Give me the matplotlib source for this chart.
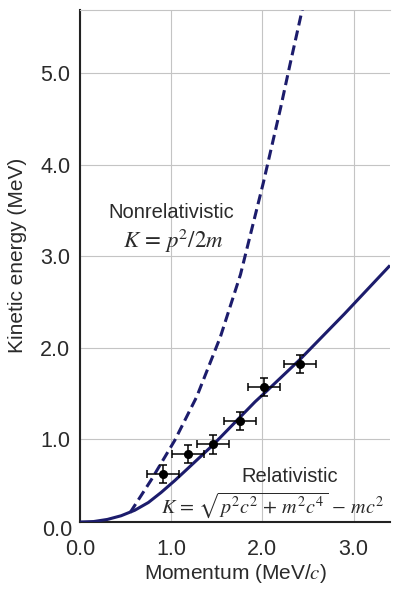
import matplotlib.pyplot as plt

# values: momentum (MeV/c), kinetic energy (MeV)
p_rel = [0.0, 0.15, 0.3, 0.45, 0.6, 0.75, 0.89, 1.04, 1.17, 1.46, 1.92, 2.05, 2.41, 2.9, 3.4]
k_rel = [0.097, 0.102, 0.125, 0.165, 0.225, 0.31, 0.42, 0.55, 0.67, 0.94, 1.41, 1.53, 1.87, 2.37, 2.90]

p_non = [0.55, 0.78, 1.04, 1.28, 1.54, 1.76, 2.01, 2.2, 2.3, 2.45]
k_non = [0.20, 0.555, 0.99, 1.465, 2.12, 2.80, 3.80, 4.62, 5.08, 5.75]

p_meas = [0.91, 1.18, 1.46, 1.75, 2.02, 2.41]
k_meas = [0.62, 0.84, 0.945, 1.20, 1.57, 1.82]
p_err = [0.175, 0.175, 0.175, 0.175, 0.175, 0.175]
k_err = [0.10, 0.10, 0.10, 0.10, 0.10, 0.10]

x_ticks = [0, 1, 2, 3]
y_ticks = [1, 2, 3, 4, 5]

plt.rcParams['font.family'] = ['Liberation Sans', 'DejaVu Sans']
plt.rcParams['mathtext.fontset'] = 'stix'
line_col = '#1c1c6c'
txt_col = '#2a2a2a'

fig = plt.figure(figsize=(3.95, 5.98), dpi=100)
ax = fig.add_axes([80 / 395, 76 / 598, 310 / 395, 512 / 598])

ax.plot(p_rel, k_rel, color=line_col, lw=2.2, zorder=3, solid_capstyle='butt')
ax.plot(p_non, k_non, color=line_col, lw=2.2, ls=(0, (3.3, 1.7)), zorder=3)
ax.errorbar(p_meas, k_meas, xerr=p_err, yerr=k_err, fmt='o', color='black',
            ms=5.5, elinewidth=1.1, capsize=3, capthick=1.1, zorder=4)

ax.set_xlim(0, 3.4)
ax.set_ylim(0.097, 5.69)
ax.set_xticks(x_ticks)
ax.set_yticks(y_ticks)
ax.set_xticklabels(['%.1f' % v for v in x_ticks])
ax.set_yticklabels(['%.1f' % v for v in y_ticks])
ax.tick_params(length=0, labelsize=15.5, colors=txt_col)
ax.tick_params(axis='x', pad=12)
ax.tick_params(axis='y', pad=7)
# the 0.0 label of the y axis sits just under the axis line
ax.text(-0.085, 0.0, '0.0', fontsize=15.5, color=txt_col, ha='right', va='center', clip_on=False)

ax.grid(True, color='#c4c4c4', lw=0.8)
ax.set_axisbelow(True)
ax.spines['right'].set_visible(False)
ax.spines['top'].set_color('#c4c4c4')
ax.spines['top'].set_linewidth(0.8)
ax.spines['left'].set_linewidth(1.5)
ax.spines['bottom'].set_linewidth(1.5)
ax.spines['left'].set_color('#222222')
ax.spines['bottom'].set_color('#222222')

ax.set_xlabel(r'Momentum (MeV/$c$)', fontsize=15, color=txt_col)
ax.set_ylabel('Kinetic energy (MeV)', fontsize=15, color=txt_col)
ax.xaxis.set_label_coords(0.5, -0.078)
ax.yaxis.set_label_coords(-0.17, 0.52)

ax.text(1.0, 3.48, 'Nonrelativistic', fontsize=14.5, ha='center', va='center', color=txt_col)
ax.text(1.02, 3.17, r'$K\,=\,p^2/2m$', fontsize=16.5, ha='center', va='center', color=txt_col)
ax.text(2.30, 0.59, 'Relativistic', fontsize=14.5, ha='center', va='center', color=txt_col)
ax.text(2.11, 0.28, r'$K\,=\,\sqrt{p^2c^2\,+\,m^2c^4}\,-\,mc^2$', fontsize=14.5,
        ha='center', va='center', color=txt_col)

fig.savefig('out.png', dpi=100)
